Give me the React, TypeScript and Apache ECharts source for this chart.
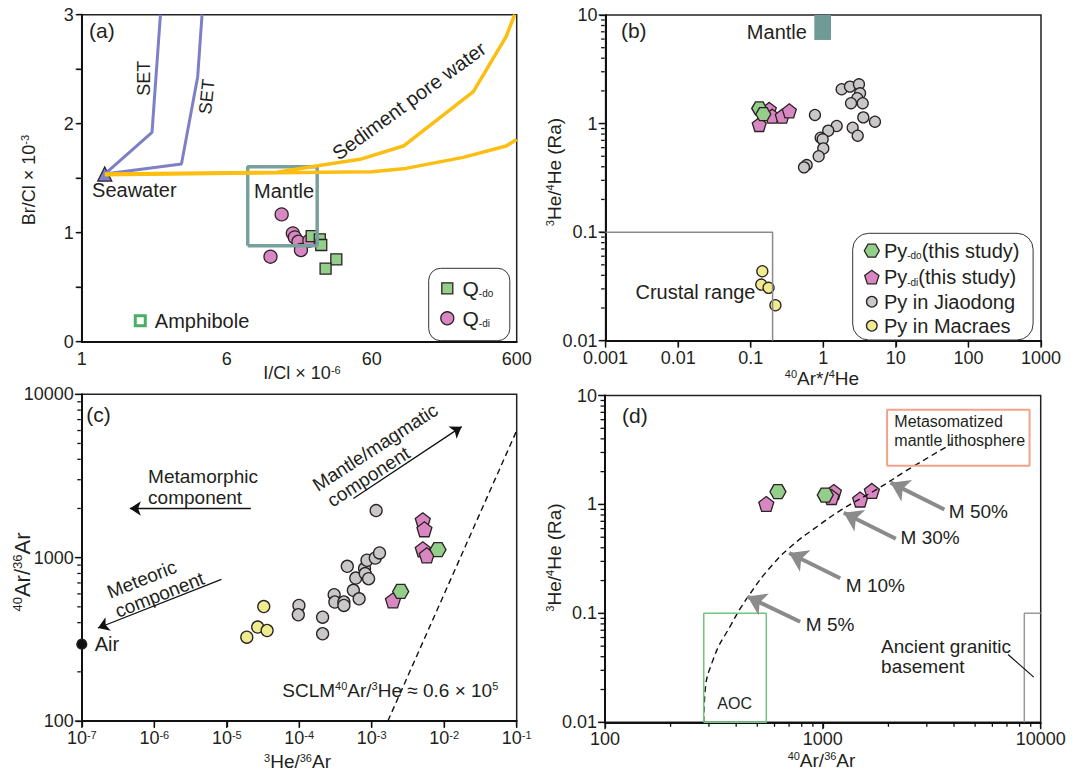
import React, { useEffect, useRef } from "react";
import * as echarts from "echarts";

const FONT = "'Liberation Sans', Arial, Helvetica, sans-serif";
const INK = "#231f20";
const EDGE = "#2a2223";
const GREEN = "#93cf8b";
const PINK = "#d987c2";
const GRAY = "#c9c8c8";
const YELLOW = "#efec90";
const PURPLE = "#7d80c4";
const GOLD = "#fdbe12";
const TEAL = "#78a19d";

// ---------- (a) Br/Cl vs I/Cl (x in equally spaced label positions 0..3) ----------
const aXTickLabels = ["1", "6", "60", "600"];
const aYTicks = [0, 0.5, 1, 1.5, 2, 2.5, 3];
const aSeawater = [[0.159, 1.538]];
const aSet1 = [[0.159, 1.538], [0.485, 1.92], [0.543, 3.0]];
const aSet2 = [[0.159, 1.538], [0.688, 1.63], [0.8, 2.431], [0.83, 3.0]];
const aPoreUpper = [[0.159, 1.538], [1.348, 1.554], [1.628, 1.615], [1.92, 1.673], [2.223, 1.798], [2.701, 2.294], [2.927, 2.798], [2.986, 3.0]];
const aPoreLower = [[0.159, 1.532], [2.001, 1.56], [2.235, 1.59], [2.631, 1.691], [2.927, 1.795], [3.0, 1.856]];
const aMantleBox = [[1.145, 0.881], [1.624, 1.606]];
const aQdi = [[1.379, 1.168], [1.302, 0.78], [1.456, 0.994], [1.47, 0.957], [1.495, 0.917], [1.512, 0.841], [1.57, 0.927]];
const aQdo = [[1.586, 0.969], [1.642, 0.939], [1.652, 0.887], [1.756, 0.755], [1.682, 0.67]];
const aAmphibole = [[0.404, 0.193]];

// ---------- (b) 3He/4He vs 40Ar*/4He ----------
const bXTicks = [0.001, 0.01, 0.1, 1, 10, 100, 1000];
const bXLabels = ["0.001", "0.01", "0.1", "1", "10", "100", "1000"];
const bYTicks = [0.01, 0.1, 1, 10];
const bYLabels = ["0.01", "0.1", "1", "10"];
const bPyDo = [[0.131, 1.38], [0.149, 1.22]];
const bPyDi = [[0.131, 0.98], [0.18, 1.35], [0.198, 1.17], [0.272, 1.17], [0.34, 1.31]];
const bJiaodong = [[1.79, 2.07], [2.33, 2.19], [3.1, 2.3], [3.21, 1.9], [2.94, 1.71], [2.41, 1.54], [3.49, 1.54], [3.56, 1.14], [5.15, 1.04], [2.54, 0.916], [2.98, 0.773], [0.767, 1.2], [1.53, 0.95], [1.17, 0.86], [0.92, 0.74], [0.98, 0.716], [1.0, 0.59], [0.863, 0.5], [0.59, 0.415], [0.542, 0.395]];
const bMacraes = [[0.1445, 0.0436], [0.1397, 0.0329], [0.176, 0.0307], [0.219, 0.0212]];
const bCrustal = [[0.001, 0.1], [0.2, 0.1], [0.2, 0.01]];
const bMantleBar = [[0.752, 5.89], [1.276, 10]];

// ---------- (c) 40Ar/36Ar vs 3He/36Ar ----------
const cXTicks = [1e-7, 1e-6, 1e-5, 1e-4, 1e-3, 1e-2, 1e-1];
const cXExps = ["-7", "-6", "-5", "-4", "-3", "-2", "-1"];
const cYTicks = [100, 1000, 10000];
const cYLabels = ["100", "1000", "10000"];
const cMacraes = [[1.89e-5, 326], [2.67e-5, 376], [3.6e-5, 358], [3.24e-5, 502]];
const cJiaodong = [[9.9e-5, 510], [9.7e-5, 447], [2.1e-4, 432], [2.1e-4, 342], [3.03e-4, 593], [3.1e-4, 535], [4.13e-4, 535], [4.13e-4, 510], [4.6e-4, 885], [5.58e-4, 631], [6.02e-4, 750], [6.7e-4, 560], [7.96e-4, 857], [8.13e-4, 799], [9.05e-4, 743], [8.6e-4, 964], [1.12e-3, 995], [1.28e-3, 1069], [1.15e-3, 1942], [5.75e-3, 1023]];
const cPyDi = [[5.06e-3, 1694], [5.33e-3, 1492], [5.06e-3, 1125], [5.75e-3, 1033], [1.96e-3, 547]];
const cPyDo = [[8.2e-3, 1119], [2.51e-3, 621]];
const cAir = [[1e-7, 295.5]];
const cSclm = [[0.00167, 100], [0.1, 6000]];
const cArrowMetamorphic = [[2.15e-5, 2000], [4.6e-7, 2000]];
const cArrowMeteoric = [[8.45e-6, 736], [1.67e-7, 371]];
const cArrowMantle = [[5.58e-4, 2301], [0.0174, 6340]];

// ---------- (d) 3He/4He vs 40Ar/36Ar ----------
const dXTicks = [100, 1000, 10000];
const dXLabels = ["100", "1000", "10000"];
const dPyDi = [[550, 1.01], [1123, 1.3], [1096, 1.17], [1483, 1.11], [1679, 1.33]];
const dPyDo = [[622, 1.31], [1026, 1.22]];
const dMixing = [[284, 0.01], [287, 0.0176], [315, 0.0385], [378, 0.078], [454, 0.1426], [587, 0.279], [732, 0.428], [946, 0.631], [1224, 0.9], [1767, 1.375], [2550, 2.18], [3890, 3.58]];
const dAOC = [[284, 0.01], [550, 0.1]];
const dMetaBox = [[1972, 2.26], [8890, 7.39]];
const dGranite = [[8410, 0.01], [8410, 0.1], [10000, 0.1]];
const dArrowM50 = [[3614, 0.9], [2047, 1.585]];
const dArrowM30 = [[2163, 0.485], [1247, 0.838]];
const dArrowM10 = [[1202, 0.21], [700, 0.358]];
const dArrowM5 = [[787, 0.0838], [451, 0.1426]];
const dLeader = [[7080, 0.0419], [9290, 0.026]];

const HEX = "path://M0,50 L25,6 L75,6 L100,50 L75,94 L25,94 Z";
const PENT = "path://M50,0 L100,36.3 L80.9,95 L19.1,95 L0,36.3 Z";

// log10 helpers: panels b, c, d use value axes over log10 of the data
const lg = Math.log10;
const L = (pts: number[][]) => pts.map(([x, y]) => [lg(x), lg(y)]);
function minorTicksLog(lo: number, hi: number) {
  const out: number[] = [];
  for (let d = lo; d < hi * 0.99; d *= 10) for (let k = 2; k <= 9; k++) out.push(lg(k * d));
  return out;
}
function labelAt(ticks: number[], labels: string[]) {
  return (v: number) => {
    let bi = 0, bd = Infinity;
    ticks.forEach((t, i) => { const d = Math.abs(lg(t) - v); if (d < bd) { bd = d; bi = i; } });
    return bd < 1e-6 ? labels[bi] : "";
  };
}
function boxPts(b: number[][]) {
  const [[x1, y1], [x2, y2]] = b;
  return [[x1, y1], [x2, y1], [x2, y2], [x1, y2], [x1, y1]];
}

const axLine = { show: true, onZero: false, lineStyle: { color: "#111", width: 2 } };
const lab = { color: INK, fontSize: 18, fontFamily: FONT, margin: 8 };
const tick = (len: number) => ({ show: true, length: len, lineStyle: { color: "#111", width: 1.3 } });

function lgAxis(gi: number, min: number, max: number, fmt: any, extraLabel: any = {}) {
  return {
    type: "value", gridIndex: gi, min: lg(min), max: lg(max), interval: 1,
    axisLine: axLine, splitLine: { show: false },
    axisTick: tick(6),
    axisLabel: { ...lab, formatter: fmt, showMinLabel: true, showMaxLabel: true, ...extraLabel },
  };
}

// outward tick marks placed through the axes' own scales (drawn at the axis edge)
function ticksSeries(gi: number, dim: "x" | "y", positions: number[], edge: number, len: number) {
  return {
    type: "scatter", xAxisIndex: gi, yAxisIndex: gi, silent: true, clip: false, z: 1,
    emphasis: { disabled: true },
    data: positions.map((p) => (dim === "y" ? [edge, p] : [p, edge])),
    symbol: "rect",
    symbolSize: dim === "y" ? [len, 1.3] : [1.3, len],
    symbolOffset: dim === "y" ? [-(len / 2 + 1), 0] : [0, len / 2 + 1],
    itemStyle: { color: "#111", borderWidth: 0, opacity: 1 },
  };
}

const sc = (gi: number, data: any, symbol: string, size: any, color: string, extra: any = {}) => ({
  type: "scatter", xAxisIndex: gi, yAxisIndex: gi, data, symbol, symbolSize: size,
  itemStyle: { color, borderColor: EDGE, borderWidth: 1.3, opacity: 1 },
  emphasis: { disabled: true }, silent: true, clip: false, ...extra,
});
const ln = (gi: number, data: any, color: string, width: number, extra: any = {}, ls: any = {}) => ({
  type: "line", xAxisIndex: gi, yAxisIndex: gi, data, symbol: "none", showSymbol: false,
  lineStyle: { color, width, ...ls }, emphasis: { disabled: true }, silent: true, ...extra,
});
const mline = (pairs: number[][][], color: string, width: number, size: number) => ({
  silent: true, symbol: ["none", "arrow"], symbolSize: size, label: { show: false },
  lineStyle: { color, width, type: "solid" },
  data: pairs.map((p) => { const q = L(p); return [{ coord: q[0] }, { coord: q[1] }]; }),
});

const richG = {
  p: { fontSize: 11, fontFamily: FONT, fill: INK, verticalAlign: "top" },
  q: { fontSize: 13, fontFamily: FONT, fill: INK, verticalAlign: "top" },
  s: { fontSize: 10, fontFamily: FONT, fill: INK, verticalAlign: "bottom" },
};
function T(x: number, y: number, text: string, o: any = {}) {
  return {
    type: "text", x, y, rotation: o.rot || 0, z: 100, silent: true,
    style: {
      text, fill: INK, fontSize: o.size || 20, fontFamily: FONT,
      align: o.align || "left", verticalAlign: "middle", textAlign: o.align || "left", textVerticalAlign: "middle",
      rich: richG,
    },
  };
}
function polyPts(cx: number, cy: number, r: number, n: number, start: number) {
  const pts: number[][] = [];
  for (let i = 0; i < n; i++) { const a = start + (i * 2 * Math.PI) / n; pts.push([cx + r * Math.cos(a), cy + r * Math.sin(a)]); }
  return pts;
}
const mk = { fill: "", stroke: EDGE, lineWidth: 1.3 };

function buildOption() {
  const graphic: any[] = [
    // (a)
    T(89, 30, "(a)", { size: 21 }),
    T(143.7, 78.3, "SET", { size: 18, rot: Math.PI / 2, align: "center" }),
    T(206.9, 96.7, "SET", { size: 18, rot: 1.47, align: "center" }),
    T(409, 100.8, "Sediment pore water", { size: 20, rot: 0.634, align: "center" }),
    T(134.3, 190, "Seawater", { size: 20, align: "center" }),
    T(284, 190.7, "Mantle", { size: 20, align: "center" }),
    T(154.8, 320.7, "Amphibole", { size: 20 }),
    T(28.7, 180, "Br/Cl × 10{p|-3}", { size: 18, rot: Math.PI / 2, align: "center" }),
    T(302, 373, "I/Cl × 10{p|-6}", { size: 18, align: "center" }),
    { type: "rect", z: 90, silent: true, shape: { x: 428.7, y: 268.3, width: 81.1, height: 72.4, r: 12 }, style: { fill: "#fff", stroke: "#333", lineWidth: 1 } },
    { type: "rect", z: 95, silent: true, shape: { x: 441.8, y: 282.8, width: 11, height: 11 }, style: { ...mk, fill: GREEN } },
    { type: "circle", z: 95, silent: true, shape: { cx: 447.3, cy: 318.3, r: 6.5 }, style: { ...mk, fill: PINK } },
    T(462.5, 288.3, "Q{s|-do}", { size: 21 }),
    T(462.5, 318.3, "Q{s|-di}", { size: 21 }),
    // (b)
    T(620.9, 30, "(b)", { size: 21 }),
    T(806.9, 32.3, "Mantle", { size: 20, align: "right" }),
    T(755.5, 292.3, "Crustal range", { size: 20, align: "right" }),
    T(554, 172, "{p|3}He/{p|4}He (Ra)", { size: 19, rot: Math.PI / 2, align: "center" }),
    T(822, 378, "{p|40}Ar*/{p|4}He", { size: 19, align: "center" }),
    { type: "rect", z: 90, silent: true, shape: { x: 852.7, y: 233.3, width: 180.4, height: 106.7, r: 16 }, style: { fill: "#fff", stroke: "#333", lineWidth: 1 } },
    { type: "polygon", z: 95, silent: true, shape: { points: polyPts(871.8, 250.7, 7.5, 6, 0) }, style: { ...mk, fill: GREEN } },
    { type: "polygon", z: 95, silent: true, shape: { points: polyPts(871.8, 277.8, 7.5, 5, -Math.PI / 2) }, style: { ...mk, fill: PINK } },
    { type: "circle", z: 95, silent: true, shape: { cx: 871.8, cy: 301.7, r: 5.3 }, style: { ...mk, fill: GRAY } },
    { type: "circle", z: 95, silent: true, shape: { cx: 871.8, cy: 325.7, r: 5.3 }, style: { ...mk, fill: YELLOW } },
    T(883.9, 250.7, "Py{s|-do}(this study)", { size: 20 }),
    T(883.9, 277.3, "Py{s|-di}(this study)", { size: 20 }),
    T(883.9, 301.7, "Py in Jiaodong", { size: 20 }),
    T(883.9, 325.7, "Py in Macraes", { size: 20 }),
    // (c)
    T(86.2, 414.3, "(c)", { size: 21 }),
    T(148.1, 476.7, "Metamorphic", { size: 19 }),
    T(148.1, 497.7, "component", { size: 19 }),
    T(141.7, 579.3, "Meteoric", { size: 19, rot: 0.375, align: "center" }),
    T(159.6, 594.7, "component", { size: 19, rot: 0.375, align: "center" }),
    T(375.3, 447.3, "Mantle/magmatic", { size: 19, rot: 0.573, align: "center" }),
    T(368.5, 476.7, "component", { size: 19, rot: 0.573, align: "center" }),
    T(94.7, 644, "Air", { size: 20 }),
    T(282.3, 690, "SCLM{p|40}Ar/{p|3}He ≈ 0.6 × 10{p|5}", { size: 19 }),
    T(22, 572, "{q|40}Ar/{q|36}Ar", { size: 22, rot: Math.PI / 2, align: "center" }),
    T(297.5, 761.7, "{p|3}He/{p|36}Ar", { size: 19, align: "center" }),
    // (d)
    T(622, 415, "(d)", { size: 21 }),
    T(894.3, 421.7, "Metasomatized", { size: 16 }),
    T(894.3, 440, "mantle lithosphere", { size: 16 }),
    T(948.8, 511.7, "M 50%", { size: 19 }),
    T(900.6, 537.7, "M 30%", { size: 19 }),
    T(845.8, 585, "M 10%", { size: 19 }),
    T(805.8, 624.3, "M 5%", { size: 19 }),
    T(881.1, 646, "Ancient granitic", { size: 19 }),
    T(881.1, 666, "basement", { size: 19 }),
    T(734.7, 703.3, "AOC", { size: 16, align: "center" }),
    T(554, 557.5, "{p|3}He/{p|4}He (Ra)", { size: 19, rot: Math.PI / 2, align: "center" }),
    T(821.5, 760, "{p|40}Ar/{p|36}Ar", { size: 19, align: "center" }),
  ];

  const gridBase = { show: true, borderColor: "#222", borderWidth: 1.5, backgroundColor: "transparent", containLabel: false };
  const logs = (a: number[]) => a.map(lg);

  return {
    animation: false,
    backgroundColor: "#fff",
    textStyle: { fontFamily: FONT },
    grid: [
      { ...gridBase, left: 81.7, top: 14.7, width: 435, height: 327 },
      { ...gridBase, left: 605.6, top: 15, width: 435.4, height: 325.7 },
      { ...gridBase, left: 81.8, top: 394.3, width: 434.9, height: 326.7 },
      { ...gridBase, left: 605, top: 395.5, width: 435.7, height: 326.8 },
    ],
    xAxis: [
      {
        type: "value", gridIndex: 0, min: 0, max: 3, interval: 1,
        axisLine: axLine, splitLine: { show: false }, axisTick: { show: false },
        axisLabel: { ...lab, formatter: (v: number) => aXTickLabels[Math.round(v)] ?? "" },
      },
      lgAxis(1, 0.001, 1000, labelAt(bXTicks, bXLabels)),
      lgAxis(2, 1e-7, 0.1, (v: number) => `{b|10}{s|${labelAt(cXTicks, cXExps)(v)}}`, {
        rich: {
          b: { fontSize: 18, fontFamily: FONT, color: INK },
          s: { fontSize: 11, fontFamily: FONT, color: INK, verticalAlign: "top" },
        },
      }),
      lgAxis(3, 100, 10000, labelAt(dXTicks, dXLabels)),
    ],
    yAxis: [
      {
        type: "value", gridIndex: 0, min: 0, max: 3, interval: 0.5,
        axisLine: axLine, splitLine: { show: false }, axisTick: tick(5),
        axisLabel: { ...lab, formatter: (v: number) => (Math.abs(v - Math.round(v)) < 1e-6 ? String(Math.round(v)) : "") },
      },
      lgAxis(1, 0.01, 10, labelAt(bYTicks, bYLabels)),
      lgAxis(2, 100, 10000, labelAt(cYTicks, cYLabels)),
      lgAxis(3, 0.01, 10, labelAt(bYTicks, bYLabels)),
    ],
    series: [
      // tick marks
      ticksSeries(0, "y", aYTicks, 0, 5),
      ticksSeries(1, "y", logs(bYTicks), lg(0.001), 6),
      ticksSeries(1, "y", minorTicksLog(0.01, 10), lg(0.001), 3.5),
      ticksSeries(1, "x", logs(bXTicks), lg(0.01), 6),
      ticksSeries(2, "y", logs(cYTicks), lg(1e-7), 6),
      ticksSeries(2, "y", minorTicksLog(100, 10000), lg(1e-7), 3.5),
      ticksSeries(2, "x", logs(cXTicks), lg(100), 6),
      ticksSeries(3, "y", logs(bYTicks), lg(100), 6),
      ticksSeries(3, "y", minorTicksLog(0.01, 10), lg(100), 3.5),
      ticksSeries(3, "x", logs(dXTicks), lg(0.01), 6),
      ticksSeries(3, "x", minorTicksLog(100, 10000), lg(0.01), 3.5),
      // (a)
      ln(0, boxPts(aMantleBox), TEAL, 3.5),
      ln(0, aSet1, PURPLE, 3),
      ln(0, aSet2, PURPLE, 3),
      ln(0, aPoreUpper, GOLD, 3.5),
      ln(0, aPoreLower, GOLD, 3.5),
      sc(0, aSeawater, "triangle", 14, PURPLE),
      sc(0, aQdi, "circle", 13, PINK),
      sc(0, aQdo, "rect", 11, GREEN),
      sc(0, aAmphibole, "rect", 10, "#fff", { itemStyle: { color: "#fff", borderColor: "#1b9a40", borderWidth: 3 } }),
      // (b)
      ln(1, L(bCrustal), "#8a8a8a", 1.5, {
        markArea: {
          silent: true, itemStyle: { color: "#6f9a96", opacity: 1 },
          data: [[{ coord: L(bMantleBar)[0] }, { coord: L(bMantleBar)[1] }]],
        },
      }),
      sc(1, L(bJiaodong), "circle", 11, GRAY),
      sc(1, L(bMacraes), "circle", 11, YELLOW),
      sc(1, L(bPyDi), PENT, 14, PINK),
      sc(1, L(bPyDo), HEX, [15, 13], GREEN),
      // (c)
      ln(2, L(cSclm), "#111", 1.4, { markLine: mline([cArrowMetamorphic, cArrowMeteoric, cArrowMantle], "#111", 1.3, 11) }, { type: [6, 4] }),
      sc(2, L(cAir), "circle", 10, "#111"),
      sc(2, L(cJiaodong), "circle", 12, GRAY),
      sc(2, L(cMacraes), "circle", 12, YELLOW),
      sc(2, L(cPyDi), PENT, 15, PINK),
      sc(2, L(cPyDo), HEX, [16, 14], GREEN),
      // (d)
      ln(3, L(dMixing), "#111", 1.4, { smooth: true }, { type: [6, 4] }),
      ln(3, boxPts(L(dAOC)), "#72c47f", 1.5),
      ln(3, boxPts(L(dMetaBox)), "#f4a28c", 2),
      ln(3, L(dGranite), "#999", 1.5),
      ln(3, L(dLeader), "#111", 1.2, { markLine: mline([dArrowM50, dArrowM30, dArrowM10, dArrowM5], "#8b8b8b", 4, 18) }),
      sc(3, L(dPyDi), PENT, 15, PINK),
      sc(3, L(dPyDo), HEX, [16, 14], GREEN),
    ],
    graphic,
  };
}

export default function App() {
  const ref = useRef<HTMLDivElement>(null);
  useEffect(() => {
    const chart = echarts.init(ref.current!, null, { renderer: "svg" });
    chart.setOption(buildOption() as any);
    return () => chart.dispose();
  }, []);
  return (
    <div
      ref={ref}
      style={{ position: "fixed", left: 0, top: 0, width: 1074, height: 774, background: "#fff" }}
    />
  );
}
